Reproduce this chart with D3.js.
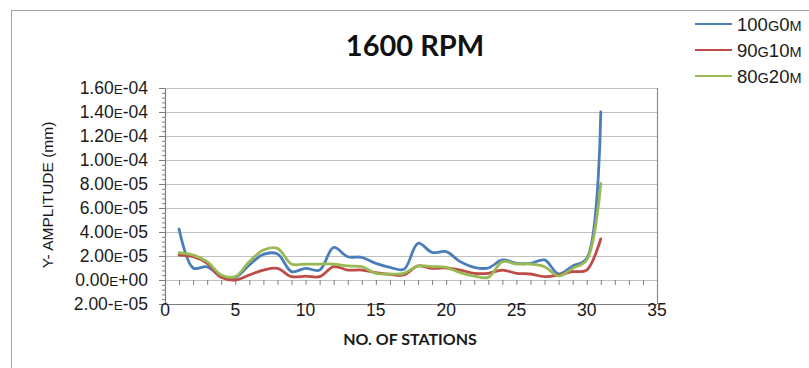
<!DOCTYPE html>
<html>
<head>
<meta charset="utf-8">
<script src="https://cdn.jsdelivr.net/npm/d3@7"></script>
<style>
  html, body { margin: 0; padding: 0; background: #ffffff; }
  svg { display: block; }
</style>
</head>
<body>
<script>
// Stations along the shaft
const stations = [1,2,3,4,5,6,7,8,9,10,11,12,13,14,15,16,17,18,19,20,21,22,23,24,25,26,27,28,29,30,31];

// Y-amplitude (mm) per station for each configuration
const amp100G0M = [4.25e-5,1.00e-5,1.10e-5,0.28e-5,0.22e-5,1.25e-5,2.14e-5,2.17e-5,0.70e-5,0.97e-5,0.83e-5,2.72e-5,1.94e-5,1.89e-5,1.39e-5,1.06e-5,0.89e-5,3.06e-5,2.30e-5,2.36e-5,1.53e-5,1.06e-5,1.00e-5,1.67e-5,1.39e-5,1.39e-5,1.67e-5,0.50e-5,1.17e-5,1.80e-5,14.0e-5];
const amp90G10M = [2.08e-5,1.94e-5,1.39e-5,0.22e-5,0.00e-5,0.42e-5,0.83e-5,0.97e-5,0.28e-5,0.33e-5,0.28e-5,1.11e-5,0.83e-5,0.83e-5,0.61e-5,0.47e-5,0.42e-5,1.17e-5,0.97e-5,1.00e-5,0.83e-5,0.56e-5,0.56e-5,0.83e-5,0.56e-5,0.50e-5,0.28e-5,0.42e-5,0.69e-5,0.83e-5,3.42e-5];
const amp80G20M = [2.27e-5,2.08e-5,1.53e-5,0.42e-5,0.28e-5,1.53e-5,2.50e-5,2.64e-5,1.33e-5,1.33e-5,1.33e-5,1.33e-5,1.17e-5,1.11e-5,0.56e-5,0.50e-5,0.56e-5,1.17e-5,1.11e-5,1.06e-5,0.61e-5,0.33e-5,0.22e-5,1.53e-5,1.33e-5,1.33e-5,1.11e-5,0.33e-5,0.97e-5,1.67e-5,8.06e-5];

// Series names: [text, isSmallCap] pieces
const seriesNames = [
  [["100",0],["G",1],["0",0],["M",1]],
  [["90",0],["G",1],["10",0],["M",1]],
  [["80",0],["G",1],["20",0],["M",1]]
];
const seriesColors = ["#4a7ebb", "#be4b48", "#98b954"];

// Axis ticks and labels
const yTickValues = [-2e-5, 0, 2e-5, 4e-5, 6e-5, 8e-5, 1e-4, 1.2e-4, 1.4e-4, 1.6e-4];
const yTickLabels = [["2.00-","E","-05"],["0.00","E","+00"],["2.00","E","-05"],["4.00","E","-05"],["6.00","E","-05"],["8.00","E","-05"],["1.00","E","-04"],["1.20","E","-04"],["1.40","E","-04"],["1.60","E","-04"]];
const yMinorStep = 4e-6;
const xLabelValues = [0, 5, 10, 15, 20, 25, 30, 35];
const xMinorTicks = [1,2,3,4,5,6,7,8,9,10,11,12,13,14,15,16,17,18,19,20,21,22,23,24,25,26,27,28,29,30,31,32,33,34];

const W = 809, H = 368;
const svg = d3.select("body").append("svg").attr("width", W).attr("height", H);

// Outer chart frame (extends past the right and bottom edges)
svg.append("rect")
  .attr("x", 11.5).attr("y", 10.5).attr("width", 840).attr("height", 400)
  .attr("fill", "none").attr("stroke", "#a6a6a6").attr("stroke-width", 1);

const x = d3.scaleLinear().domain([0, 35]).range([165, 657]);
const y = d3.scaleLinear().domain([-2e-5, 1.6e-4]).range([304, 88]);

// Horizontal gridlines
svg.append("g").selectAll("line")
  .data(yTickValues.filter(v => v >= 0))
  .join("line")
  .attr("x1", x(0)).attr("x2", x(35))
  .attr("y1", d => Math.round(y(d)) + 0.5).attr("y2", d => Math.round(y(d)) + 0.5)
  .attr("stroke", "#c0c0c0").attr("stroke-width", 1.2);

// Plot border (right edge)
svg.append("line")
  .attr("x1", x(35) + 0.5).attr("x2", x(35) + 0.5)
  .attr("y1", y(1.6e-4)).attr("y2", y(-2e-5))
  .attr("stroke", "#8c8c8c").attr("stroke-width", 1.2);

// Y axis: minor ticks
const minorVals = d3.range(-2e-5, 1.6e-4 + 1e-12, yMinorStep);
const yMinor = svg.append("g").attr("transform", `translate(${x(0)},0)`)
  .call(d3.axisLeft(y).tickValues(minorVals).tickSize(3).tickFormat(""));
yMinor.select(".domain").remove();
yMinor.selectAll("line").attr("stroke", "#7f7f7f");

// Y axis: major ticks and domain
const yMajor = svg.append("g").attr("transform", `translate(${x(0)},0)`)
  .call(d3.axisLeft(y).tickValues(yTickValues).tickSize(6).tickSizeOuter(0).tickFormat(""));
yMajor.select(".domain").attr("stroke", "#7f7f7f").attr("stroke-width", 1.2);
yMajor.selectAll("line").attr("stroke", "#7f7f7f");

// Y tick labels with small-cap exponent marker
const yLab = svg.append("g")
  .attr("font-family", "'Liberation Sans', Arial, sans-serif")
  .attr("fill", "#1a1a1a");
yTickValues.forEach((v, i) => {
  const t = yLab.append("text")
    .attr("x", 148).attr("y", y(v) + 6)
    .attr("text-anchor", "end")
    .attr("font-size", 17.5);
  const parts = yTickLabels[i];
  t.append("tspan").text(parts[0]);
  t.append("tspan").attr("font-size", 13.5).text(parts[1]);
  t.append("tspan").text(parts[2]);
});

// X axis: tick marks along the zero line
const xTicks = svg.append("g").attr("transform", `translate(0,${y(0)})`)
  .call(d3.axisBottom(x).tickValues(xMinorTicks).tickSize(5).tickFormat(""));
xTicks.select(".domain").remove();
xTicks.selectAll("line").attr("stroke", "#7f7f7f");

// X axis line at the bottom of the plot
svg.append("line")
  .attr("x1", x(0)).attr("x2", x(35))
  .attr("y1", y(-2e-5) + 0.5).attr("y2", y(-2e-5) + 0.5)
  .attr("stroke", "#7f7f7f").attr("stroke-width", 1.2);

// X tick labels
svg.append("g").selectAll("text")
  .data(xLabelValues)
  .join("text")
  .attr("x", d => x(d)).attr("y", 316)
  .attr("text-anchor", "middle")
  .attr("font-family", "'Liberation Sans', Arial, sans-serif")
  .attr("font-size", 17.5)
  .attr("fill", "#1a1a1a")
  .text(d => d);

// Series lines, smoothed
const line = d3.line()
  .x((d, i) => x(stations[i]))
  .y(d => y(d))
  .curve(d3.curveCatmullRom.alpha(0.5));

[amp100G0M, amp90G10M, amp80G20M].forEach((vals, i) => {
  svg.append("path")
    .datum(vals)
    .attr("d", line)
    .attr("fill", "none")
    .attr("stroke", seriesColors[i])
    .attr("stroke-width", 2.8)
    .attr("stroke-linejoin", "round")
    .attr("stroke-linecap", "round");
});

// Title
svg.append("text")
  .attr("x", 415).attr("y", 56)
  .attr("text-anchor", "middle")
  .attr("font-family", "Lato, 'Open Sans', sans-serif")
  .attr("font-weight", "bold")
  .attr("font-size", 29)
  .attr("fill", "#111")
  .text("1600 RPM");

// Axis titles
svg.append("text")
  .attr("x", 410).attr("y", 345)
  .attr("text-anchor", "middle")
  .attr("font-family", "Lato, 'Open Sans', sans-serif")
  .attr("font-weight", "bold")
  .attr("font-size", 16)
  .attr("fill", "#1a1a1a")
  .text("NO. OF STATIONS");

svg.append("text")
  .attr("transform", "translate(53,195) rotate(-90)")
  .attr("text-anchor", "middle")
  .attr("font-family", "'Liberation Sans', Arial, sans-serif")
  .attr("font-size", 15.5)
  .attr("fill", "#1a1a1a")
  .text("Y- AMPLITUDE (mm)");

// Legend
const legend = svg.append("g");
seriesNames.forEach((name, i) => {
  const ly = 24 + i * 26;
  legend.append("line")
    .attr("x1", 695).attr("x2", 732)
    .attr("y1", ly).attr("y2", ly)
    .attr("stroke", seriesColors[i]).attr("stroke-width", 2);
  const t = legend.append("text")
    .attr("x", 737).attr("y", ly + 6.5)
    .attr("font-family", "'Liberation Sans', Arial, sans-serif")
    .attr("font-size", 18.5)
    .attr("fill", "#1a1a1a");
  name.forEach(([s, small]) => {
    const ts = t.append("tspan").text(s);
    if (small) ts.attr("font-size", 14.5);
  });
});
</script>
</body>
</html>
